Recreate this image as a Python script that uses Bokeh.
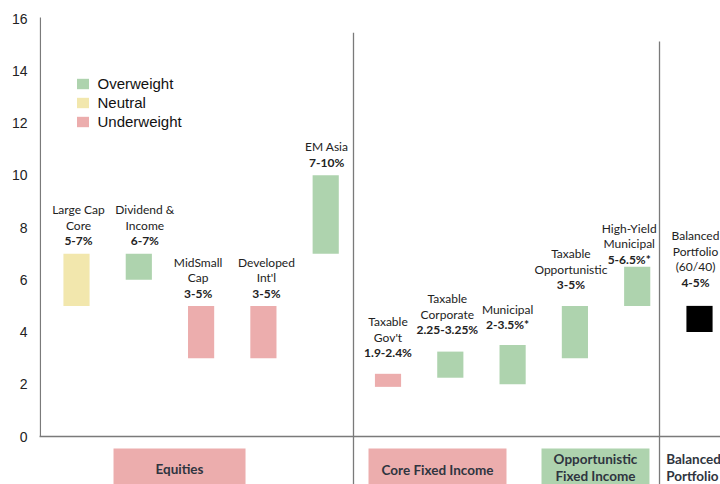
from bokeh.plotting import figure
from bokeh.models import ColumnDataSource, Range1d, FixedTicker, Legend, LegendItem
from bokeh.core.properties import value
from bokeh.embed import file_html
from bokeh.resources import INLINE

# ---------------- data ----------------
categories = ["Large Cap Core", "Dividend & Income", "MidSmall Cap", "Developed Int'l", "EM Asia",
              "Taxable Gov't", "Taxable Corporate", "Municipal", "Taxable Opportunistic",
              "High-Yield Municipal", "Balanced Portfolio (60/40)"]
name_lines = [["Large Cap", "Core"], ["Dividend &", "Income"], ["MidSmall", "Cap"], ["Developed", "Int'l"],
              ["EM Asia"], ["Taxable", "Gov't"], ["Taxable", "Corporate"], ["Municipal"],
              ["Taxable", "Opportunistic"], ["High-Yield", "Municipal"], ["Balanced", "Portfolio", "(60/40)"]]
range_labels = ["5-7%", "6-7%", "3-5%", "3-5%", "7-10%", "1.9-2.4%", "2.25-3.25%", "2-3.5%*",
                "3-5%", "5-6.5%*", "4-5%"]
low = [5, 6, 3, 3, 7, 1.9, 2.25, 2, 3, 5, 4]
high = [7, 7, 5, 5, 10, 2.4, 3.25, 3.5, 5, 6.5, 5]
rating = ["Neutral", "Overweight", "Underweight", "Underweight", "Overweight", "Underweight",
          "Overweight", "Overweight", "Overweight", "Overweight", "Portfolio"]
legend_order = ["Overweight", "Neutral", "Underweight"]
y_ticks = [0, 2, 4, 6, 8, 10, 12, 14, 16]

groups = ["Equities", "Core Fixed Income", "Opportunistic\nFixed Income", "Balanced\nPortfolio"]
group_kind = ["Underweight", "Underweight", "Overweight", None]

# ---------------- layout / style ----------------
colors = {"Overweight": "#aed3ae", "Neutral": "#f2e7ad", "Underweight": "#ecadad", "Portfolio": "#000000"}
label_gap = [13, 13, 12.5, 12.5, 13, 21, 22, 20.5, 21, 7.5, 23.5]   # px from bar top to % line
label_dx = [2, 6, -3, 3, 1, 0, -3, -5, -4, -8, -4]                  # px horizontal nudge
line_h = 15.5
group_box = [(0.594, 2.713), (4.687, 6.902), (7.464, 9.197), None]
group_x = [1.653, 5.795, 8.33, 9.465]
group_align = ["center", "center", "center", "left"]
group_y = [-1.225, -1.30, -1.19, -1.19]
separators = [(4.446, 15.45), (9.358, 15.12)]
line_col = "#7a7a7a"
text_col = "#222222"

xs = list(range(len(categories)))

p = figure(width=720, height=484, output_backend="svg", toolbar_location=None,
           x_range=Range1d(-0.594, 10.337), y_range=Range1d(-1.837, 16.689),
           x_axis_location=None, min_border_left=39, min_border_right=0,
           min_border_top=0, min_border_bottom=0)
p.outline_line_color = None
p.xgrid.visible = False
p.ygrid.visible = False
p.background_fill_color = "white"

yax = p.yaxis[0]
yax.ticker = FixedTicker(ticks=y_ticks)
yax.axis_line_color = None
yax.major_tick_line_color = None
yax.minor_tick_line_color = None
yax.major_tick_in = 0
yax.major_tick_out = 0
yax.major_label_standoff = 12
yax.major_label_text_font = "Liberation Sans"
yax.major_label_text_font_size = "14px"
yax.major_label_text_color = text_col

# frame lines
p.segment(x0=[-0.58], y0=[y_ticks[-1] + 0.04], x1=[-0.58], y1=[0], line_color=line_col, line_width=1.3)
p.segment(x0=[-0.6], y0=[0], x1=[10.4], y1=[0], line_color=line_col, line_width=1.3)
for sx, top in separators:
    p.segment(x0=[sx], y0=[top], x1=[sx], y1=[-2], line_color=line_col, line_width=1.3)

# bars
src = ColumnDataSource(dict(x=xs, low=low, high=high, color=[colors[r] for r in rating]))
bars = p.vbar(x="x", bottom="low", top="high", width=0.42, fill_color="color", line_color=None, source=src)

# labels
lx, ly, lt, loff, ldx, bx, by, bt, boff, bdx = [], [], [], [], [], [], [], [], [], []
for i in xs:
    bx.append(xs[i]); by.append(high[i]); bt.append(range_labels[i])
    boff.append(-label_gap[i]); bdx.append(label_dx[i])
    n = len(name_lines[i])
    for k, ln in enumerate(name_lines[i]):
        lx.append(xs[i]); ly.append(high[i]); lt.append(ln)
        loff.append(-(label_gap[i] + (n - k) * line_h)); ldx.append(label_dx[i])

p.text(x="x", y="y", text="t", y_offset="o", x_offset="dx",
       source=ColumnDataSource(dict(x=lx, y=ly, t=lt, o=loff, dx=ldx)),
       text_font=value("Lato"), text_font_size="12px", text_color=text_col,
       text_align="center", text_baseline="middle")
p.text(x="x", y="y", text="t", y_offset="o", x_offset="dx",
       source=ColumnDataSource(dict(x=bx, y=by, t=bt, o=boff, dx=bdx)),
       text_font=value("Lato"), text_font_size="12px", text_font_style="bold", text_color=text_col,
       text_align="center", text_baseline="middle")

# group boxes
for i, g in enumerate(groups):
    if group_box[i] is not None:
        l, r = group_box[i]
        p.quad(left=[l], right=[r], top=[-0.459], bottom=[-2.0], fill_color=colors[group_kind[i]],
               line_color=None)
p.text(x=group_x, y=group_y, text=groups, text_align=group_align, text_font=value("Lato"),
       text_font_size="13.5px", text_font_style="bold", text_color="#2f3540",
       text_baseline="middle", text_line_height=1.1)

# legend
items = [LegendItem(label=r, renderers=[bars], index=rating.index(r)) for r in legend_order]
leg = Legend(items=items, location=(35.5, 354), glyph_width=15, glyph_height=13, label_height=18,
             spacing=1, padding=0, margin=0, label_standoff=8, border_line_color=None,
             background_fill_alpha=0, label_text_font="Liberation Sans", label_text_font_size="15px",
             label_text_color="#111111")
p.add_layout(leg, "center")

open("out.html", "w").write(file_html(p, INLINE))
